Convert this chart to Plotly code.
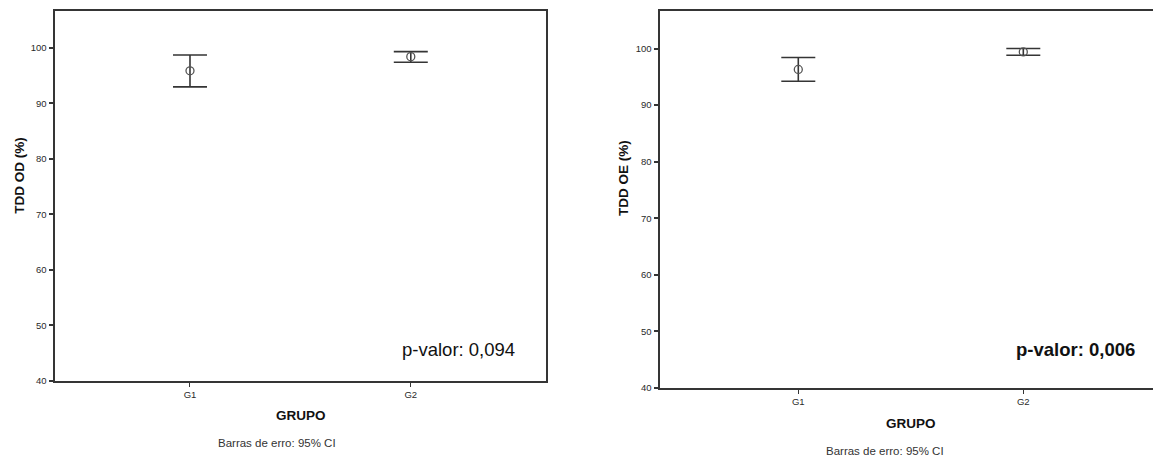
import plotly.graph_objects as go

W, H = 1153, 463

groups = ["G1", "G2"]
group_pos = [1, 2]

# TDD OD (%) - left panel
od_mean = [95.85, 98.4]
od_lower = [92.95, 97.4]
od_upper = [98.7, 99.3]

# TDD OE (%) - right panel
oe_mean = [96.3, 99.4]
oe_lower = [94.2, 98.8]
oe_upper = [98.4, 100.0]

y_ticks = [40, 50, 60, 70, 80, 90, 100]
p_od = "p-valor: 0,094"
p_oe = "<b>p-valor: 0,006</b>"

FONT = "Liberation Sans, Arial, sans-serif"
LINE = "#353535"
TXT = "#2a2a2a"

fig = go.Figure()

def add_series(mean, lo, hi, xa, ya):
    fig.add_trace(go.Scatter(
        x=group_pos, y=mean, mode="markers",
        xaxis=xa, yaxis=ya,
        marker=dict(symbol="circle-open", size=8, color="#555555", line=dict(width=1.3)),
        error_y=dict(type="data", symmetric=False,
                     array=[h - m for h, m in zip(hi, mean)],
                     arrayminus=[m - l for m, l in zip(mean, lo)],
                     color=LINE, thickness=1.6, width=17),
        showlegend=False, hoverinfo="skip"))

add_series(od_mean, od_lower, od_upper, "x", "y")
add_series(oe_mean, oe_lower, oe_upper, "x2", "y2")

def px(v):
    return v / W

def py(v):
    return 1 - v / H

xcommon = dict(tickmode="array", tickvals=group_pos, ticktext=groups,
               showline=True, linecolor=LINE, linewidth=1.6, mirror=True,
               ticks="outside", ticklen=4, tickwidth=1.3, tickcolor=LINE,
               showgrid=False, zeroline=False,
               tickfont=dict(family=FONT, size=9.5, color=TXT))
ycommon = dict(range=[40, 106.7], tickmode="array", tickvals=y_ticks,
               showline=True, linecolor=LINE, linewidth=1.6,
               ticks="outside", ticklen=5, tickwidth=1.5, tickcolor=LINE,
               showgrid=False, zeroline=False,
               tickfont=dict(family=FONT, size=9.5, color=TXT))

x1 = dict(xcommon, domain=[px(55.3), px(545.7)], range=[0.39, 2.611], anchor="y")
y1 = dict(ycommon, domain=[py(385), py(10.7)], anchor="x", mirror=True)
x2 = dict(xcommon, domain=[px(660.3), 1.0], range=[0.3867, 2.5764], anchor="y2")
y2 = dict(ycommon, domain=[py(392.3), py(10.7)], anchor="x2", mirror=False)

def ann(text, x, y, size, color="#111111", angle=0):
    return dict(text=text, x=px(x), y=py(y), xref="paper", yref="paper",
                xanchor="center", yanchor="middle", showarrow=False,
                textangle=angle, font=dict(family=FONT, size=size, color=color))

annotations = [
    ann(p_od, 458, 353, 18.5),
    ann(p_oe, 1075.3, 353.3, 18.5),
    ann("<b>TDD OD (%)</b>", 18.6, 177, 13.5, angle=-90),
    ann("<b>TDD OE (%)</b>", 623, 180, 13.5, angle=-90),
    ann("<b>GRUPO</b>", 300.5, 420, 13.5),
    ann("<b>GRUPO</b>", 910.7, 427.7, 13.5),
    ann("Barras de erro: 95% CI", 276.6, 447.7, 11.5, "#333333"),
    ann("Barras de erro: 95% CI", 885, 456.3, 11.5, "#333333"),
]

fig.update_layout(
    width=W, height=H, margin=dict(l=0, r=0, t=0, b=0),
    paper_bgcolor="white", plot_bgcolor="white",
    xaxis=x1, yaxis=y1, xaxis2=x2, yaxis2=y2,
    annotations=annotations, showlegend=False,
)

fig.write_html("out.html", config={"displayModeBar": False})
